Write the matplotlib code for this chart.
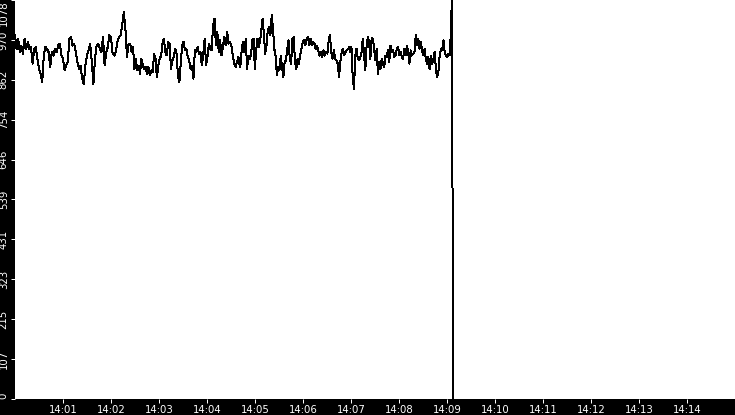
import numpy as np
import matplotlib
matplotlib.use("Agg")
import matplotlib.pyplot as plt

# readings, split into four stretches (seconds after 14:00:00 for first/last sample)
seg1_span = (0, 142)
seg1 = [983, 946, 974, 937, 955, 933, 974, 946, 965, 946,
        951, 906, 946, 951, 919, 892, 879, 856, 928, 951,
        946, 937, 897, 937, 928, 946, 937, 955, 960, 928,
        919, 888, 901, 910, 974, 978, 955, 960, 937, 910,
        892, 901, 865, 851, 901, 928, 942, 960, 910, 851,
        919, 955, 960, 946, 937, 978, 901, 937, 951, 983,
        978, 933, 928, 937, 965, 978, 983, 1010, 1046, 1001,
        924, 960]

seg2_span = (144, 281)
seg2 = [960, 937, 951, 892, 919, 888, 901, 879, 919, 901,
        892, 897, 879, 897, 874, 888, 883, 933, 919, 869,
        901, 919, 928, 960, 974, 937, 928, 965, 960, 892,
        915, 924, 946, 933, 874, 856, 910, 955, 965, 942,
        946, 924, 915, 892, 901, 865, 942, 937, 951, 933,
        937, 901, 933, 974, 901, 924, 960, 946, 942, 1010,
        1028, 955, 992, 937, 969, 928, 951, 978, 955, 992,
        960, 965, 955, 928, 906, 897, 910, 924, 897]

seg3_span = (282, 418)
seg3 = [906, 951, 965, 937, 974, 892, 928, 919, 928, 969,
        974, 892, 942, 974, 951, 965, 996, 1028, 983, 933,
        955, 996, 1005, 983, 1037, 1001, 946, 928, 874, 897,
        888, 928, 897, 869, 910, 915, 946, 969, 919, 906,
        974, 978, 910, 892, 919, 906, 928, 946, 965, 969,
        955, 974, 978, 955, 974, 955, 965, 960, 946, 955,
        942, 928, 937, 924, 942, 928, 937, 933, 969, 983,
        937, 919, 942, 919, 915, 906, 869, 910, 937, 946,
        928, 937, 942, 946, 951]

seg4_span = (419, 545)
seg4 = [937, 951, 869, 838, 928, 946, 919, 915, 924, 937,
        974, 928, 888, 955, 978, 965, 919, 974, 974, 946,
        915, 946, 879, 910, 892, 919, 906, 897, 928, 924,
        942, 910, 955, 937, 942, 924, 928, 946, 951, 928,
        937, 924, 919, 946, 928, 955, 937, 906, 942, 928,
        933, 937, 983, 955, 974, 946, 965, 942, 928, 946,
        919, 906, 924, 892, 928, 906, 919, 937, 892, 869,
        883, 928, 946, 942, 969, 937, 928, 924, 933, 928,
        1001]

# end of the log: jump off the top, then back to zero
tail_t = [546.3, 547.5]
tail_v = [1100, 0]

ymax = 1078
xtick_labels = ["14:01", "14:02", "14:03", "14:04", "14:05", "14:06", "14:07",
                "14:08", "14:09", "14:10", "14:11", "14:12", "14:13", "14:14"]

t, v = [], []
for span, vals in [(seg1_span, seg1), (seg2_span, seg2), (seg3_span, seg3), (seg4_span, seg4)]:
    t.extend(np.linspace(span[0], span[1], len(vals)))
    v.extend(vals)
t.extend(tail_t)
v.extend(tail_v)
t = np.array(t) / 60.0  # minutes after 14:00

fig = plt.figure(figsize=(7.35, 4.15), dpi=100, facecolor="black")
ax = fig.add_axes([15 / 735, 16 / 415, 720 / 735, 399 / 415])
ax.set_facecolor("white")
ax.plot(t, v, color="black", lw=0.72, antialiased=False)

ax.set_xlim(0, 15)
ax.set_ylim(0, ymax)

for s in ax.spines.values():
    s.set_visible(False)

ax.set_xticks(np.arange(1, 15))
ax.set_xticklabels(xtick_labels)
yt = np.linspace(0, ymax, 11)
ax.set_yticks(yt)
ax.set_yticklabels([str(int(y)) for y in yt], rotation=90, va="center")
ax.tick_params(colors="white", labelsize=7.3, length=3, width=0.72)
ax.tick_params(axis="x", pad=1)
ax.tick_params(axis="y", pad=1.5)

ylabels = ax.get_yticklabels()
ylabels[0].set_va("bottom")
ylabels[-1].set_va("top")

fig.savefig("out.png", dpi=100, facecolor="black")
